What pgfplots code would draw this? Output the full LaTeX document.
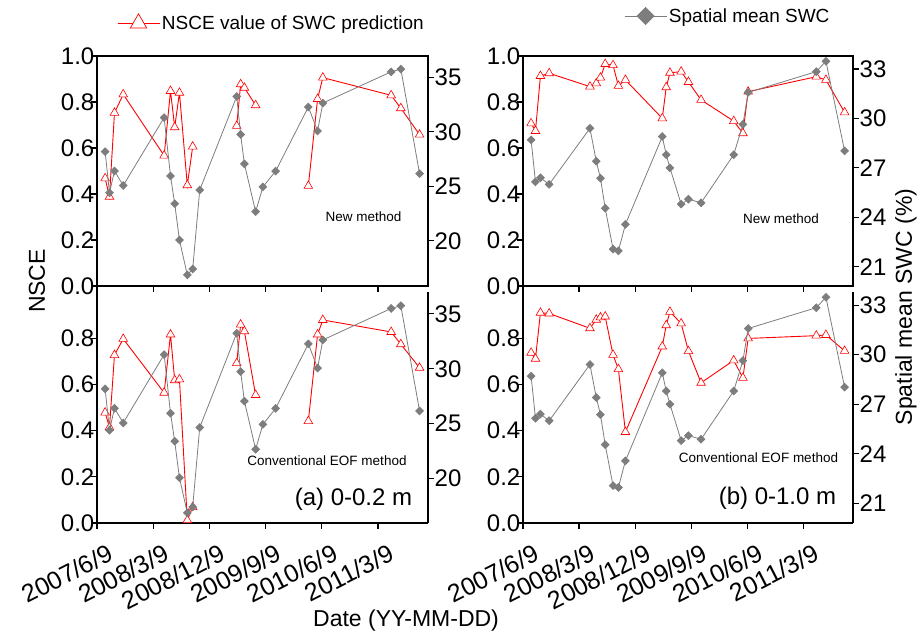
\documentclass[border=0pt]{standalone}
\usepackage{fontspec}
\setmainfont{Liberation Sans}
\usepackage{pgfplots}
\usepackage{pgfplotstable}
\pgfplotsset{compat=1.18}
\definecolor{nred}{RGB}{255,0,0}
\definecolor{sgray}{RGB}{125,125,125}

% d = months after 2007/6/9
\pgfplotstableread{
d aN aC bN bC sA sB
1.30 0.468 0.478 0.707 0.737 28.17 28.70
2.00 0.388 0.414 0.674 0.711 24.40 26.15
2.80 0.753 0.727 0.913 0.910 26.40 26.40
4.20 0.833 0.797 0.925 0.907 25.07 26.00
10.75 0.567 0.564 0.867 0.843 31.30 29.40
11.77 0.848 0.816 0.881 0.880 25.95 27.40
12.44 0.690 0.618 0.906 0.890 23.40 26.37
13.20 0.840 0.622 0.965 0.894 20.07 24.55
14.46 0.438 0.012 0.960 0.728 16.87 22.07
15.32 0.606 0.069 0.870 0.666 17.41 21.96
16.45 nan nan 0.896 0.394 24.66 23.57
22.37 0.696 0.692 0.729 0.764 33.24 28.90
23.00 0.877 0.859 0.864 0.856 29.75 27.80
23.60 0.862 0.830 0.927 0.914 27.05 27.00
25.40 0.786 0.554 0.932 0.864 22.67 24.80
26.57 nan nan 0.887 0.744 24.94 25.10
28.60 nan nan 0.809 0.607 26.39 24.88
33.84 0.435 0.441 0.717 0.704 32.27 27.80
35.32 0.813 0.816 0.664 0.628 30.07 29.64
36.16 0.906 0.879 0.845 0.799 32.63 31.58
47.10 0.829 0.827 0.910 0.811 35.50 32.84
48.65 0.773 0.774 0.896 0.814 35.75 33.47
51.65 0.658 0.672 0.755 0.745 26.16 28.03
}\data

\pgfplotsset{
  panel/.style={
    scale only axis, anchor=south west,
    xmin=0, xmax=53, xtick={0,9,18,27,36,45},
    tick align=outside, major tick length=6pt,
    axis line style={line width=1.3pt, black},
    every tick/.style={black, line width=1.1pt},
    yticklabel style={font=\fontsize{24}{26}\selectfont, inner sep=0.5pt},
    /pgf/number format/assume math mode=true,
    unbounded coords=jump,
  },
  nsceax/.style={
    ymin=0, ymax=1,
    yticklabel style={/pgf/number format/fixed, /pgf/number format/fixed zerofill, /pgf/number format/precision=1, xshift=4pt},
  },
  xlab/.style={
    xticklabels={2007/6/9,2008/3/9,2008/12/9,2009/9/9,2010/6/9,2011/3/9},
    xticklabel style={font=\fontsize{25}{27}\selectfont, rotate=27, anchor=north east, inner sep=0pt, yshift=-17pt, xshift=2pt},
  },
  nsce/.style={nred, line width=0.9pt, mark=triangle*, mark size=5pt,
    mark options={fill=white, draw=nred, line width=0.6pt, solid}},
  swc/.style={sgray, line width=0.8pt, mark=square*, mark size=2.7pt,
    mark options={rotate=45, fill=sgray, draw=sgray, solid}},
  legend image code/.code={\draw[mark repeat=2,mark phase=2,#1] plot coordinates {(0pt,0pt) (21pt,0pt) (42pt,0pt)};},
}

\begin{document}
\begin{tikzpicture}
\path[use as bounding box] (0pt,0pt) rectangle (920pt,635pt);

% ---------- top left ----------
\begin{axis}[panel, nsceax, at={(97pt,349pt)}, width=331pt, height=230pt,
  xticklabels={}, xtick pos=left, ytick pos=left,
  ytick={0,0.2,0.4,0.6,0.8,1.0},
  legend style={at={(axis description cs:0.06,1.142)}, anchor=west, draw=none, fill=none,
    font=\fontsize{19}{22}\selectfont, inner sep=0pt}]
\addplot[nsce, forget plot] table[x=d, y=aN] {\data};
\addlegendimage{nred, line width=0.9pt, mark=triangle*, mark size=9.5pt, mark options={fill=white, draw=nred, line width=0.7pt, solid}}
\addlegendentry{NSCE value of SWC prediction}
\end{axis}
\begin{axis}[panel, at={(97pt,349pt)}, width=331pt, height=230pt,
  axis x line=none, axis y line*=right, ytick pos=right, yticklabel pos=right,
  ymin=15.85, ymax=36.95, ytick={20,25,30,35}]
\addplot[swc] table[x=d, y=sA] {\data};
\end{axis}

% ---------- bottom left ----------
\begin{axis}[panel, nsceax, xlab, at={(97pt,112pt)}, width=331pt, height=231pt,
  axis x line*=bottom, axis y line*=left, xtick pos=left, ytick pos=left,
  ytick={0,0.2,0.4,0.6,0.8}]
\addplot[nsce] table[x=d, y=aC] {\data};
\end{axis}
\begin{axis}[panel, at={(97pt,112pt)}, width=331pt, height=231pt,
  axis x line=none, axis y line*=right, ytick pos=right, yticklabel pos=right,
  ymin=15.95, ymax=37.0, ytick={20,25,30,35}]
\addplot[swc] table[x=d, y=sA] {\data};
\end{axis}

% ---------- top right ----------
\begin{axis}[panel, nsceax, at={(523pt,349pt)}, width=330pt, height=230pt,
  xticklabels={}, xtick pos=left, ytick pos=left,
  ytick={0,0.2,0.4,0.6,0.8,1.0}]
\addplot[nsce] table[x=d, y=bN] {\data};
\end{axis}
\begin{axis}[panel, at={(523pt,349pt)}, width=330pt, height=230pt,
  axis x line=none, axis y line*=right, ytick pos=right, yticklabel pos=right,
  ymin=19.83, ymax=33.79, ytick={21,24,27,30,33},
  legend style={at={(axis description cs:0.306,1.174)}, anchor=west, draw=none, fill=none,
    font=\fontsize{19}{22}\selectfont, inner sep=0pt}]
\addplot[swc, forget plot] table[x=d, y=sB] {\data};
\addlegendimage{sgray, line width=0.8pt, mark=square*, mark size=6pt, mark options={rotate=45, fill=sgray, draw=sgray, solid}}
\addlegendentry{Spatial mean SWC}
\end{axis}

% ---------- bottom right ----------
\begin{axis}[panel, nsceax, xlab, at={(523pt,112pt)}, width=330pt, height=231pt,
  axis x line*=bottom, axis y line*=left, xtick pos=left, ytick pos=left,
  ytick={0,0.2,0.4,0.6,0.8}]
\addplot[nsce] table[x=d, y=bC] {\data};
\end{axis}
\begin{axis}[panel, at={(523pt,112pt)}, width=330pt, height=231pt,
  axis x line=none, axis y line*=right, ytick pos=right, yticklabel pos=right,
  ymin=19.81, ymax=33.79, ytick={21,24,27,30,33}]
\addplot[swc] table[x=d, y=sB] {\data};
\end{axis}

% ---------- texts ----------
\node[font=\fontsize{13.5}{15}\selectfont] at (363.5pt,418pt) {New method};
\node[font=\fontsize{13.5}{15}\selectfont] at (781pt,416pt) {New method};
\node[font=\fontsize{13.5}{15}\selectfont] at (327pt,174pt) {Conventional EOF method};
\node[font=\fontsize{13.5}{15}\selectfont] at (758.5pt,177pt) {Conventional EOF method};
\node[font=\fontsize{24}{26}\selectfont] at (353.5pt,136pt) {(a) 0-0.2 m};
\node[font=\fontsize{24}{26}\selectfont] at (777.5pt,137pt) {(b) 0-1.0 m};
\node[font=\fontsize{23}{26}\selectfont, rotate=90] at (37pt,354pt) {NSCE};
\node[font=\fontsize{23}{26}\selectfont, rotate=90] at (906pt,328pt) {Spatial mean SWC (\%)};
\node[font=\fontsize{23}{26}\selectfont] at (406pt,14pt) {Date (YY-MM-DD)};
\end{tikzpicture}
\end{document}
